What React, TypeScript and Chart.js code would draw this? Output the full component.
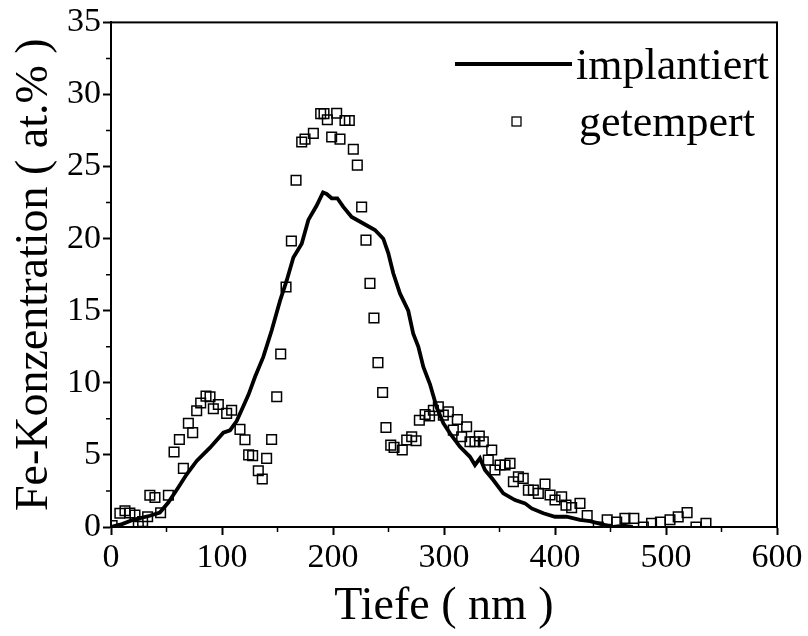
import React, { useEffect, useRef } from 'react';
import { Chart, registerables } from 'chart.js';

Chart.register(...registerables);

// implantiert (line)
const implantDepth = [0, 10, 20, 35, 44, 51.6, 60.6, 68.2, 77.2, 89.2, 101.2, 107.2, 113.2, 119.2, 124, 129.7, 137.2, 144.8, 152.3, 158.3, 164.3, 171.8, 177.8, 185.3, 191, 194.3, 198.8, 203.9, 209.3, 216.8, 227.3, 237.8, 245.3, 249.8, 254.3, 260.3, 267.8, 272.3, 276.9, 281.4, 287.4, 293.4, 299.4, 305.4, 314.4, 323.4, 327.9, 332.4, 336.9, 344.4, 353.4, 364, 373, 379, 389.5, 400, 410.5, 422.5, 431.5, 443.5, 452.6, 461.7, 470];
const implantConc = [0, 0.2, 0.5, 0.78, 1.0, 1.7, 2.74, 3.66, 4.58, 5.5, 6.54, 6.7, 7.35, 8.38, 9.2, 10.4, 11.8, 13.65, 15.7, 17.1, 18.7, 19.65, 21.3, 22.3, 23.2, 23.1, 22.8, 22.8, 22.2, 21.5, 21.05, 20.6, 20.0, 19.0, 17.6, 16.2, 15.0, 13.4, 12.5, 11.1, 9.9, 8.3, 7.2, 6.5, 5.56, 4.87, 4.3, 4.76, 3.95, 3.26, 2.33, 1.87, 1.64, 1.29, 0.95, 0.71, 0.71, 0.5, 0.4, 0.17, 0, 0.1, 0];

// getempert (squares)
const temperDepth = [1, 8, 12.6, 17, 21.6, 24.6, 28.5, 33, 35, 39.6, 44.7, 51.7, 56.8, 61.6, 65.2, 69.7, 73.6, 77.2, 80.8, 85.6, 89.2, 92.2, 96.7, 104.2, 108.7, 116.2, 120.7, 124, 127.6, 132.7, 136.3, 140.2, 144.7, 149.3, 152.9, 157.7, 162.5, 166.7, 171.8, 174.8, 182.3, 188.9, 191.9, 194.9, 198.8, 203.3, 206.3, 210.8, 214.7, 218.3, 221.9, 225.8, 229.7, 233.3, 236.9, 240.5, 244.7, 247.7, 252, 255, 262.4, 266.4, 270.9, 274.8, 277.8, 283, 287, 290.4, 294.9, 299.4, 303.9, 308.4, 312, 315.9, 320.4, 323.4, 327.9, 331.8, 335.4, 339.9, 343, 345.9, 350.5, 355, 359.5, 362.5, 367, 371.4, 376, 380.5, 385, 391, 395.5, 400, 406, 409.9, 415, 422.5, 429, 439, 447, 455.6, 463, 471, 479.6, 487, 495, 503.6, 511, 519, 527, 536];
const temperConc = [0.1, 0.95, 1.13, 0.97, 0.83, 0.05, 0.37, 0.71, 2.2, 2.05, 0.99, 2.2, 5.2, 6.07, 4.07, 7.2, 6.55, 8.06, 8.6, 9.08, 9.03, 8.2, 8.5, 7.88, 8.1, 6.77, 6.05, 5.0, 4.95, 3.9, 3.33, 4.76, 6.07, 9.03, 12.0, 16.65, 19.84, 24.05, 26.7, 26.9, 27.3, 28.67, 28.67, 28.25, 27.05, 28.7, 26.9, 28.2, 28.2, 26.2, 25.1, 22.2, 19.9, 16.9, 14.5, 11.4, 9.33, 6.9, 5.68, 5.52, 5.34, 6.03, 6.26, 5.98, 7.4, 7.8, 7.7, 8.1, 8.34, 7.76, 7.99, 6.72, 7.46, 6.26, 6.95, 5.91, 5.91, 6.31, 5.91, 4.64, 5.34, 3.95, 4.3, 4.3, 4.41, 3.14, 3.49, 3.37, 2.56, 2.56, 2.33, 2.98, 2.22, 1.87, 2.1, 1.52, 1.34, 1.64, 0.8, 0, 0.5, 0.35, 0.6, 0.6, 0, 0.25, 0.35, 0.5, 0.7, 1.0, 0, 0.25];

const seriesLabels = ['implantiert', 'getempert'];
const xTitle = 'Tiefe ( nm )';
const yTitle = 'Fe-Konzentration ( at.% )';
const xTickValues = [0, 100, 200, 300, 400, 500, 600];
const yTickValues = [0, 5, 10, 15, 20, 25, 30, 35];
const xMinorValues = [50, 150, 250, 350, 450, 550];
const yMinorValues = [2.5, 7.5, 12.5, 17.5, 22.5, 27.5, 32.5];

const FONT = '"Liberation Serif", "Times New Roman", serif';

const framePlugin = {
  id: 'framePlugin',
  afterDraw(chart: any) {
    const { ctx, chartArea } = chart;
    const { left, right, top, bottom } = chartArea;
    const xs = chart.scales.x;
    const ys = chart.scales.y;
    ctx.save();
    ctx.strokeStyle = '#000';
    ctx.lineWidth = 2;
    ctx.strokeRect(left, top, right - left, bottom - top);
    ctx.lineWidth = 1.5;
    ctx.beginPath();
    xMinorValues.forEach((v) => {
      const px = xs.getPixelForValue(v);
      ctx.moveTo(px, bottom);
      ctx.lineTo(px, bottom + 5);
    });
    yMinorValues.forEach((v) => {
      const py = ys.getPixelForValue(v);
      ctx.moveTo(left, py);
      ctx.lineTo(left - 5, py);
    });
    ctx.stroke();

    // legend
    ctx.fillStyle = '#000';
    ctx.font = `44px ${FONT}`;
    ctx.textBaseline = 'alphabetic';
    ctx.textAlign = 'left';
    ctx.lineWidth = 3.8;
    ctx.beginPath();
    ctx.moveTo(455, 64);
    ctx.lineTo(572, 64);
    ctx.stroke();
    ctx.fillText(seriesLabels[0], 576, 79);
    ctx.lineWidth = 1.3;
    ctx.strokeRect(512, 117, 9, 9);
    ctx.fillText(seriesLabels[1], 579, 136);
    ctx.restore();
  },
};

export default function App() {
  const ref = useRef<HTMLCanvasElement | null>(null);
  useEffect(() => {
    if (!ref.current) return;
    const implantData = implantDepth.map((x, i) => ({ x, y: implantConc[i] }));
    const temperData = temperDepth.map((x, i) => ({ x, y: temperConc[i] }));
    const chart = new Chart(ref.current, {
      type: 'scatter',
      data: {
        datasets: [
          {
            label: seriesLabels[0],
            data: implantData,
            showLine: true,
            borderColor: '#000',
            borderWidth: 3.8,
            pointRadius: 0,
            fill: false,
            tension: 0,
            order: 1,
          },
          {
            label: seriesLabels[1],
            data: temperData,
            showLine: false,
            pointStyle: 'rect',
            pointRadius: 6.8,
            borderColor: '#000',
            borderWidth: 1.5,
            backgroundColor: 'rgba(255,255,255,0)',
            order: 2,
          },
        ],
      },
      options: {
        responsive: false,
        animation: false,
        devicePixelRatio: 1,
        layout: { padding: { left: 0, right: 31, top: 22, bottom: 0 } },
        plugins: { legend: { display: false }, tooltip: { enabled: false } },
        scales: {
          x: {
            type: 'linear',
            min: 0,
            max: 600,
            afterBuildTicks: (s: any) => {
              s.ticks = xTickValues.map((v) => ({ value: v }));
            },
            afterFit: (s: any) => {
              s.height = 109;
            },
            ticks: {
              font: { family: FONT, size: 34 },
              color: '#000',
              padding: 3,
              maxRotation: 0,
              autoSkip: false,
            },
            grid: { drawOnChartArea: false, drawTicks: true, tickLength: 8, tickWidth: 2, tickColor: '#000' },
            border: { display: true, color: '#000', width: 2 },
            title: {
              display: true,
              text: xTitle,
              color: '#000',
              font: { family: FONT, size: 46 },
              padding: { top: 0, bottom: 1 },
            },
          },
          y: {
            type: 'linear',
            min: 0,
            max: 35,
            afterBuildTicks: (s: any) => {
              s.ticks = yTickValues.map((v) => ({ value: v }));
            },
            afterFit: (s: any) => {
              s.width = 111;
            },
            ticks: {
              font: { family: FONT, size: 34 },
              color: '#000',
              padding: 2,
              autoSkip: false,
            },
            grid: { drawOnChartArea: false, drawTicks: true, tickLength: 8, tickWidth: 2, tickColor: '#000' },
            border: { display: true, color: '#000', width: 2 },
            title: {
              display: true,
              text: yTitle,
              color: '#000',
              font: { family: FONT, size: 46 },
              padding: { top: 7, bottom: 0 },
            },
          },
        },
      },
      plugins: [framePlugin],
    });
    return () => chart.destroy();
  }, []);
  return (
    <div style={{ position: 'absolute', left: 0, top: 0, width: 808, height: 636, background: '#fff' }}>
      <canvas ref={ref} width={808} height={636} />
    </div>
  );
}
